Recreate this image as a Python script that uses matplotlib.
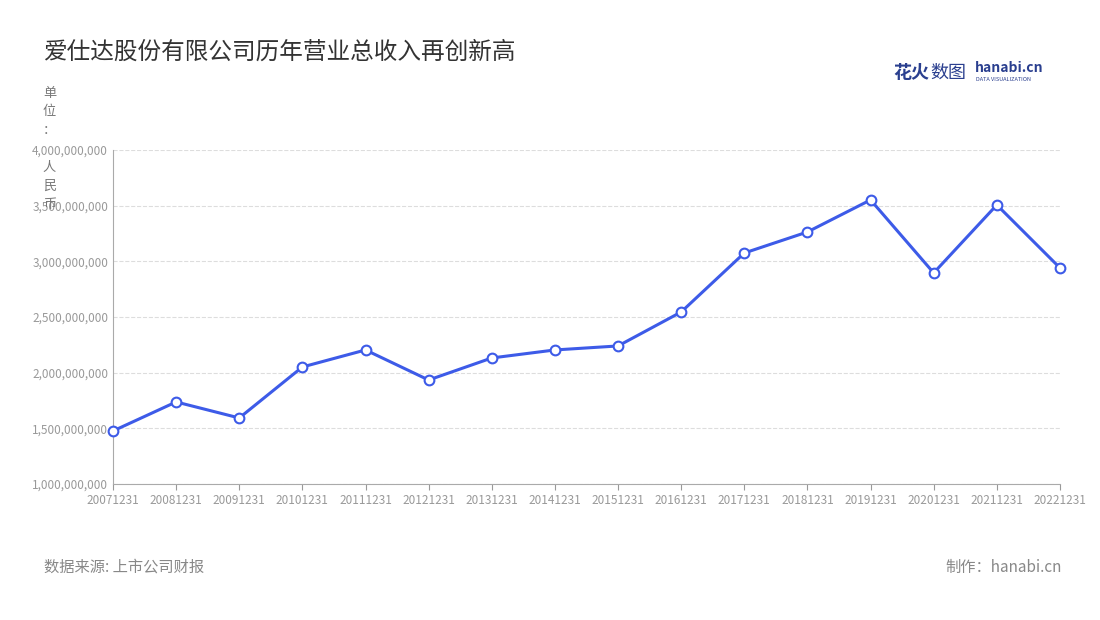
import matplotlib
matplotlib.use("Agg")
import matplotlib.pyplot as plt
from matplotlib.ticker import FuncFormatter

plt.rcParams['font.family'] = ['Noto Sans CJK SC', 'DejaVu Sans']

dates = ["20071231","20081231","20091231","20101231","20111231","20121231","20131231","20141231",
         "20151231","20161231","20171231","20181231","20191231","20201231","20211231","20221231"]
revenue = [1.476e9,1.737e9,1.593e9,2.051e9,2.204e9,1.934e9,2.132e9,2.204e9,
           2.240e9,2.545e9,3.075e9,3.264e9,3.552e9,2.896e9,3.507e9,2.941e9]
yticks = [1e9,1.5e9,2e9,2.5e9,3e9,3.5e9,4e9]

fig = plt.figure(figsize=(11,6.2), dpi=100)
ax = fig.add_axes([0.1027,0.2194,0.8609,0.5386])
x = list(range(len(dates)))
ax.plot(x, revenue, color='#3d5be8', lw=2.2, marker='o', ms=7, mfc='white', mec='#3d5be8', mew=1.5, zorder=3, clip_on=False)
ax.set_xlim(0, len(dates)-1)
ax.set_ylim(1e9, 4e9)
ax.set_yticks(yticks)
ax.yaxis.set_major_formatter(FuncFormatter(lambda v,p: f"{int(v):,}"))
ax.set_xticks(x)
ax.set_xticklabels(dates)
ax.tick_params(axis='both', labelsize=8.5, colors='#999999', length=0)
ax.tick_params(axis='x', length=4, color='#999999')
ax.grid(axis='y', ls='--', color='#dddddd', lw=0.8)
for s in ['top','right']:
    ax.spines[s].set_visible(False)
ax.spines['left'].set_color('#aaaaaa')
ax.spines['bottom'].set_color('#aaaaaa')

fig.text(0.04, 0.915, "爱仕达股份有限公司历年营业总收入再创新高", fontsize=17, color='#333333', va='center')
fig.text(0.045, 0.86, "单\n位\n：\n\n人\n民\n币", fontsize=9.5, color='#777777', va='top', ha='center', linespacing=1.55)
fig.text(0.04, 0.085, "数据来源: 上市公司财报", fontsize=11, color='#888888', va='center')
fig.text(0.965, 0.085, "制作：hanabi.cn", fontsize=11, color='#888888', va='center', ha='right')
fig.text(0.812, 0.883, "花火", fontsize=13, color='#2a3f8f', weight='bold', va='center')
fig.text(0.846, 0.883, "数图", fontsize=13, color='#2a3f8f', va='center')
fig.text(0.886, 0.89, "hanabi.cn", fontsize=10, color='#2a3f8f', weight='bold', va='center')
fig.text(0.887, 0.872, "DATA VISUALIZATION", fontsize=4, color='#2a3f8f', va='center')
fig.savefig("out.png", dpi=100)
